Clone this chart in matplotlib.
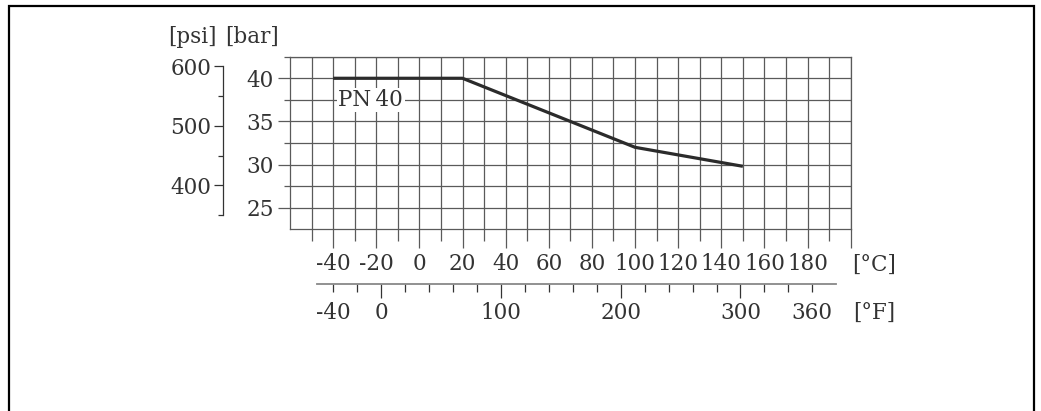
import matplotlib
matplotlib.use("Agg")
import matplotlib.pyplot as plt
import numpy as np
from matplotlib.lines import Line2D
from matplotlib.transforms import blended_transform_factory

# ---- data ----
temp_c = [-40, 20, 100, 150]
pressure_bar = [40, 40, 32.0, 29.8]
curve_label = "PN\u200940"

c_major_ticks = [-40, -20, 0, 20, 40, 60, 80, 100, 120, 140, 160, 180, 200]
c_tick_labels = ["-40", "-20", "0", "20", "40", "60", "80", "100", "120", "140", "160", "180", ""]
c_minor_ticks = [-50, -30, -10, 10, 30, 50, 70, 90, 110, 130, 150, 170, 190]

bar_major_ticks = [25, 30, 35, 40]
bar_tick_labels = ["25", "30", "35", "40"]
bar_minor_ticks = [27.5, 32.5, 37.5, 42.5]

psi_major_ticks = [400, 500, 600]
psi_tick_labels = ["400", "500", "600"]
psi_minor_ticks = [350, 450, 550]

f_major_ticks = [0, 100, 200, 300]
f_minor_ticks = list(range(-40, 361, 20))
f_labels = [-40, 0, 100, 200, 300, 360]

BAR_TO_PSI = 14.5038

# ---- layout helpers ----
W, H = 1041, 411
def fx(px):
    return px / W
def fy(py):
    return 1 - py / H

FONT = "DejaVu Serif"
FS = 15.5
TXT = "#333333"
GRID = "#5a5a5a"

fig = plt.figure(figsize=(W / 100, H / 100), dpi=100)

# main grid axes
left, right, top, bottom = 290, 850.7, 56.7, 229.3
ax = fig.add_axes([fx(left), fy(bottom), fx(right) - fx(left), fy(top) - fy(bottom)])
ax.set_xlim(-60, 200)
ax.set_ylim(22.5, 42.5)
ax.set_xticks(c_major_ticks)
ax.set_xticklabels(c_tick_labels)
ax.set_xticks(c_minor_ticks, minor=True)
ax.set_yticks(bar_major_ticks)
ax.set_yticklabels(bar_tick_labels)
ax.set_yticks(bar_minor_ticks, minor=True)
ax.grid(True, which="both", color=GRID, linewidth=0.9)
ax.set_axisbelow(True)
for s in ax.spines.values():
    s.set_color(GRID)
    s.set_linewidth(0.9)
ax.tick_params(axis="x", which="major", direction="out", length=13.5, width=0.9,
               color=GRID, pad=3.5, labelsize=FS, labelcolor=TXT)
ax.tick_params(axis="x", which="minor", direction="out", length=8.4, width=0.9, color=GRID)
ax.tick_params(axis="y", which="major", direction="out", length=8.6, width=0.9,
               color=GRID, pad=3, labelsize=FS, labelcolor=TXT)
ax.tick_params(axis="y", which="minor", direction="out", length=4.3, width=0.9, color=GRID)
for lab in ax.get_xticklabels() + ax.get_yticklabels():
    lab.set_family(FONT)

ax.plot(temp_c, pressure_bar, color="#2b2b2b", linewidth=2.3, solid_capstyle="butt", zorder=3)
ax.text(-22.5, 37.5, curve_label, family=FONT, fontsize=FS, color=TXT,
        ha="center", va="center", zorder=4,
        bbox=dict(facecolor="white", edgecolor="none", pad=1.0))

# psi axis
psi_ax = fig.add_axes([fx(222.7), fy(bottom), 0.0005, fy(top) - fy(bottom)])
psi_ax.set_ylim(22.5 * BAR_TO_PSI, 42.5 * BAR_TO_PSI)
psi_ax.patch.set_visible(False)
for k in ("top", "right", "bottom"):
    psi_ax.spines[k].set_visible(False)
psi_ax.spines["left"].set_color("#333333")
psi_ax.spines["left"].set_linewidth(0.9)
psi_ax.spines["left"].set_bounds(350, 600)
psi_ax.set_xticks([])
psi_ax.set_yticks(psi_major_ticks)
psi_ax.set_yticklabels(psi_tick_labels)
psi_ax.set_yticks(psi_minor_ticks, minor=True)
psi_ax.tick_params(axis="y", which="major", length=6.3, width=0.9, color="#333333",
                   pad=1.7, labelsize=FS, labelcolor=TXT)
psi_ax.tick_params(axis="y", which="minor", length=3.4, width=0.9, color="#333333")
for lab in psi_ax.get_yticklabels():
    lab.set_family(FONT)

# Fahrenheit scale
axf = fig.add_axes([fx(left), fy(284), fx(right) - fx(left), 0.0005])
axf.set_xlim(-60 * 1.8 + 32, 200 * 1.8 + 32)
axf.patch.set_visible(False)
for k in ("top", "right", "left"):
    axf.spines[k].set_visible(False)
axf.spines["bottom"].set_color("#888888")
axf.spines["bottom"].set_linewidth(1.3)
axf.spines["bottom"].set_bounds(-53.5, 380)
axf.set_yticks([])
axf.set_xticks(f_major_ticks)
axf.set_xticklabels([])
axf.set_xticks(f_minor_ticks, minor=True)
axf.tick_params(axis="x", which="major", direction="out", length=10.3, width=0.9, color="#333333")
axf.tick_params(axis="x", which="minor", direction="out", length=5.5, width=0.9, color="#333333")
tr = blended_transform_factory(axf.transData, fig.transFigure)
for v in f_labels:
    axf.text(v, fy(313), str(v), transform=tr, family=FONT, fontsize=FS, color=TXT,
             ha="center", va="center")

# unit labels
fig.text(fx(192.5), fy(36.7), "[psi]", family=FONT, fontsize=FS, color=TXT, ha="center", va="center")
fig.text(fx(252), fy(36.7), "[bar]", family=FONT, fontsize=FS, color=TXT, ha="center", va="center")
fig.text(fx(874), fy(265), "[°C]", family=FONT, fontsize=FS, color=TXT, ha="center", va="center")
fig.text(fx(874), fy(313), "[°F]", family=FONT, fontsize=FS, color=TXT, ha="center", va="center")

# frame
fig.add_artist(Line2D([fx(8.5), fx(8.5), fx(1034.3), fx(1034.3)],
                      [-0.05, fy(5.8), fy(5.8), -0.05],
                      transform=fig.transFigure, color="black", linewidth=1.6,
                      solid_joinstyle="miter"))

fig.savefig("out.png", dpi=100)
